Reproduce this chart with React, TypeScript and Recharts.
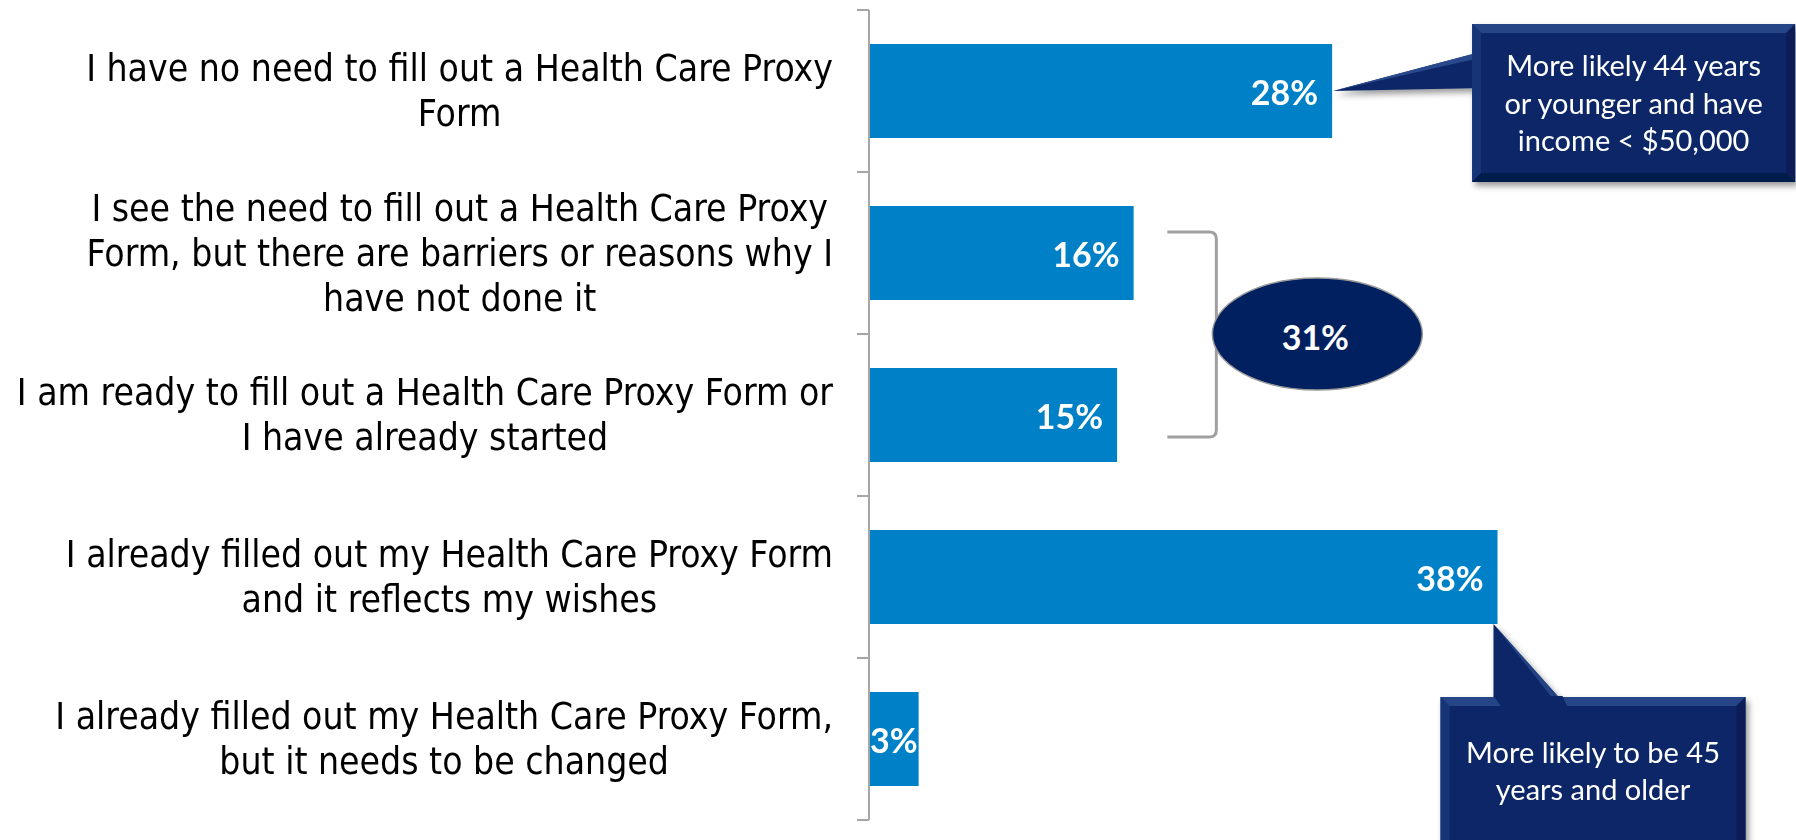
import React from 'react';
import { BarChart, Bar, XAxis, YAxis, LabelList, ReferenceDot } from 'recharts';

// ---------- data ----------
const categories: string[] = [
  'I have no need to fill out a Health Care Proxy\nForm',
  'I see the need to fill out a Health Care Proxy\nForm, but there are barriers or reasons why I\nhave not done it',
  'I am ready to fill out a Health Care Proxy Form or\nI have already started',
  'I already filled out my Health Care Proxy Form\nand it reflects my wishes',
  'I already filled out my Health Care Proxy Form,\nbut it needs to be changed',
];
const values: number[] = [28, 16, 15, 38, 3];
const groupValue = 31; // bracketed total of categories 2 and 3
const calloutTopLines: string[] = ['More likely 44 years', 'or younger and have', 'income < $50,000'];
const calloutBottomLines: string[] = ['More likely to be 45', 'years and older'];

const data = categories.map((c, i) => ({ name: c, value: values[i] }));

// ---------- styling / layout ----------
const W = 1796;
const H = 840;
const MARGIN = { top: 10, right: 100, bottom: 20, left: 0 };
const AXIS_W = 869;
const BAND = (H - MARGIN.top - MARGIN.bottom) / categories.length;
const BAR_HALF = BAND * (1 - 2 * 0.21) / 2;
const BAR_COLOR = '#0080C6';
const NAVY = '#0B2767';
const AXIS_COLOR = '#A6A6A6';
const CAT_FONT_FAMILY = '"DejaVu Sans Condensed", "DejaVu Sans", sans-serif';
const CAT_FONT_SIZE = 37;
const VALUE_FONT_FAMILY = 'Lato, "Open Sans", sans-serif';
const VALUE_FONT_SIZE = 34;
const CALLOUT_FONT_SIZE = 29;

let measureCtx: CanvasRenderingContext2D | null = null;
function measure(text: string, font: string): number {
  if (!measureCtx) measureCtx = document.createElement('canvas').getContext('2d');
  if (!measureCtx) return text.length * 15;
  measureCtx.font = font;
  return measureCtx.measureText(text).width;
}

function CategoryTick(props: any) {
  const { x, y, payload, index, visibleTicksCount, tickMargin } = props;
  const lines = String(payload.value).split('\n');
  const font = `${CAT_FONT_SIZE}px ${CAT_FONT_FAMILY}`;
  const maxW = Math.max(...lines.map((l) => measure(l, font)));
  const centerX = x - maxW / 2;
  const lineH = 45;
  const startY = y - ((lines.length - 1) * lineH) / 2;
  const axisX = x + (tickMargin ?? 36);
  const last = index === (visibleTicksCount ?? categories.length) - 1;
  return (
    <g>
      <line x1={axisX - 12} x2={axisX} y1={y - BAND / 2} y2={y - BAND / 2} stroke={AXIS_COLOR} strokeWidth={2} />
      {last && (
        <line x1={axisX - 12} x2={axisX} y1={y + BAND / 2} y2={y + BAND / 2} stroke={AXIS_COLOR} strokeWidth={2} />
      )}
      <text
        x={centerX}
        y={startY}
        textAnchor="middle"
        fontFamily={CAT_FONT_FAMILY}
        fontSize={CAT_FONT_SIZE}
        fill="#000"
      >
        {lines.map((l, i) => (
          <tspan key={i} x={centerX} y={startY + i * lineH} dominantBaseline="central">
            {l}
          </tspan>
        ))}
      </text>
    </g>
  );
}

function ValueLabel(props: any) {
  const { x, y, width, height, value } = props;
  const text = `${value}%`;
  const w = measure(text, `700 ${VALUE_FONT_SIZE}px ${VALUE_FONT_FAMILY}`);
  const inside = width > w + 30;
  const tx = inside ? x + width - 14 : x + width / 2;
  return (
    <text
      x={tx}
      y={y + height / 2}
      textAnchor={inside ? 'end' : 'middle'}
      dominantBaseline="central"
      fontFamily={VALUE_FONT_FAMILY}
      fontWeight={700}
      fontSize={VALUE_FONT_SIZE}
      fill="#fff"
    >
      {text}
    </text>
  );
}

function BevelBox({ x, y, w, h }: { x: number; y: number; w: number; h: number }) {
  const b = 9;
  return (
    <g>
      <rect x={x} y={y} width={w} height={h} fill={NAVY} />
      <polygon points={`${x},${y} ${x + w},${y} ${x + w - b},${y + b} ${x + b},${y + b}`} fill="#2A4A8C" opacity={0.85} />
      <polygon points={`${x},${y} ${x + b},${y + b} ${x + b},${y + h - b} ${x},${y + h}`} fill="#1C3A7C" opacity={0.85} />
      <polygon points={`${x + w},${y} ${x + w},${y + h} ${x + w - b},${y + h - b} ${x + w - b},${y + b}`} fill="#081E52" opacity={0.9} />
      <polygon points={`${x},${y + h} ${x + w},${y + h} ${x + w - b},${y + h - b} ${x + b},${y + h - b}`} fill="#061A48" opacity={0.9} />
    </g>
  );
}

function CalloutTop(props: any) {
  const { cx, cy } = props;
  const bx = cx + 140;
  const by = cy - 67;
  const bw = 323;
  const bh = 158;
  const midX = bx + bw / 2;
  return (
    <g filter="url(#calloutShadow)">
      <polygon points={`${cx + 1},${cy} ${bx + 12},${cy - 40} ${bx + 12},${cy - 3}`} fill={NAVY} />
      <polygon points={`${cx + 1},${cy} ${bx + 12},${cy - 40} ${bx + 12},${cy - 34}`} fill="#2A4A8C" />
      <BevelBox x={bx} y={by} w={bw} h={bh} />
      {calloutTopLines.map((l, i) => (
        <text
          key={i}
          x={midX}
          y={by + 52 + i * 37.5}
          textAnchor="middle"
          fontFamily={VALUE_FONT_FAMILY}
          fontSize={CALLOUT_FONT_SIZE}
          fill="#fff"
        >
          {l}
        </text>
      ))}
    </g>
  );
}

function CalloutBottom(props: any) {
  const { cx, cy } = props;
  const tipX = cx - 4;
  const tipY = cy + BAR_HALF;
  const bx = cx - 57;
  const by = cy + 120;
  const bw = 305;
  const bh = 200;
  const midX = bx + bw / 2;
  return (
    <g filter="url(#calloutShadow)">
      <polygon points={`${tipX},${tipY} ${cx + 70},${by + 10} ${tipX},${by + 10}`} fill={NAVY} />
      <polygon points={`${tipX},${tipY} ${cx + 70},${by + 10} ${cx + 62},${by + 10}`} fill="#2A4A8C" opacity={0.8} />
      <BevelBox x={bx} y={by} w={bw} h={bh} />
      <polygon points={`${tipX},${by - 1} ${cx + 65},${by - 1} ${cx + 70},${by + 10} ${tipX + 8},${by + 10}`} fill={NAVY} />
      {calloutBottomLines.map((l, i) => (
        <text
          key={i}
          x={midX}
          y={by + 66 + i * 37}
          textAnchor="middle"
          fontFamily={VALUE_FONT_FAMILY}
          fontSize={CALLOUT_FONT_SIZE}
          fill="#fff"
        >
          {l}
        </text>
      ))}
    </g>
  );
}

function BracketGroup(props: any) {
  const { cx, cy } = props;
  const top = cy - 21;
  const bottom = cy + BAND + 22;
  const left = cx - 49;
  const r = 7;
  const ex = cx + 101;
  const ey = cy + BAND / 2;
  return (
    <g>
      <path
        d={`M ${left} ${top} L ${cx - r} ${top} Q ${cx} ${top} ${cx} ${top + r} L ${cx} ${bottom - r} Q ${cx} ${bottom} ${cx - r} ${bottom} L ${left} ${bottom}`}
        fill="none"
        stroke="#A0A0A0"
        strokeWidth={3}
      />
      <ellipse cx={ex} cy={ey} rx={105} ry={56} fill="#002060" stroke="#9A9A9A" strokeWidth={1.5} />
      <text
        x={ex - 2}
        y={ey + 2}
        textAnchor="middle"
        dominantBaseline="central"
        fontFamily={VALUE_FONT_FAMILY}
        fontWeight={700}
        fontSize={VALUE_FONT_SIZE}
        fill="#fff"
      >
        {`${groupValue}%`}
      </text>
    </g>
  );
}

export default function App() {
  return (
    <div style={{ position: 'absolute', left: 0, top: 0, width: W, height: H, background: '#fff' }}>
      <BarChart width={W} height={H} data={data} layout="vertical" margin={MARGIN} barCategoryGap="21%">
        <defs>
          <filter id="calloutShadow" x="-20%" y="-20%" width="150%" height="150%">
            <feDropShadow dx={3} dy={4} stdDeviation={3} floodColor="#000" floodOpacity={0.4} />
          </filter>
        </defs>
        <XAxis type="number" domain={[0, 50]} hide />
        <YAxis
          type="category"
          dataKey="name"
          width={AXIS_W}
          axisLine={{ stroke: AXIS_COLOR, strokeWidth: 2 }}
          tickLine={false}
          tickSize={0}
          tickMargin={36}
          tick={<CategoryTick />}
          interval={0}
        />
        <Bar dataKey="value" fill={BAR_COLOR} isAnimationActive={false}>
          <LabelList dataKey="value" content={<ValueLabel />} />
        </Bar>
        <ReferenceDot x={21} y={categories[1]} r={0} ifOverflow="visible" shape={(p: any) => <BracketGroup {...p} />} />
        <ReferenceDot x={values[0]} y={categories[0]} r={0} ifOverflow="visible" shape={(p: any) => <CalloutTop {...p} />} />
        <ReferenceDot x={values[3]} y={categories[3]} r={0} ifOverflow="visible" shape={(p: any) => <CalloutBottom {...p} />} />
      </BarChart>
    </div>
  );
}
